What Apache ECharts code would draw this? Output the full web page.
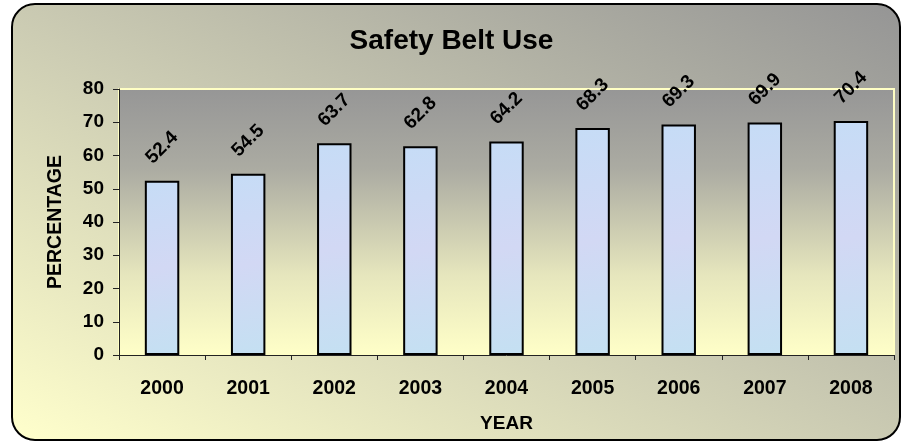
<!DOCTYPE html>
<html>
<head>
<meta charset="utf-8">
<script src="https://cdn.jsdelivr.net/npm/echarts@6/dist/echarts.min.js"></script>
<style>
  html, body { margin: 0; padding: 0; background: #ffffff; }
  #frame {
    position: absolute; left: 11px; top: 3px; width: 886px; height: 434px;
    border: 2px solid #000; border-radius: 24px;
    background: linear-gradient(to top right, #ffffcc 0%, #cacab2 50%, #959595 100%);
  }
  #chart { position: absolute; left: 0; top: 0; width: 903px; height: 442px; }
</style>
</head>
<body>
<div id="frame"></div>
<div id="chart"></div>
<script>
const categories = ['2000', '2001', '2002', '2003', '2004', '2005', '2006', '2007', '2008'];
const beltUse = [52.4, 54.5, 63.7, 62.8, 64.2, 68.3, 69.3, 69.9, 70.4];
const yTicks = { min: 0, max: 80, interval: 10 };

const chart = echarts.init(document.getElementById('chart'), null, { renderer: 'canvas' });
const font = '"Liberation Sans", Arial, sans-serif';

chart.setOption({
  backgroundColor: 'transparent',
  animation: false,
  title: {
    text: 'Safety Belt Use',
    left: 'center',
    top: 22,
    textStyle: { fontFamily: font, fontSize: 28, fontWeight: 'bold', color: '#000' }
  },
  grid: {
    left: 119, right: 9, top: 89, bottom: 87,
    show: true,
    borderColor: '#ffffc4',
    borderWidth: 2,
    backgroundColor: new echarts.graphic.LinearGradient(0, 0, 0, 1, [
      { offset: 0, color: '#969696' },
      { offset: 0.3, color: '#ababa2' },
      { offset: 0.7, color: '#e6e6bd' },
      { offset: 1, color: '#ffffc8' }
    ])
  },
  xAxis: {
    type: 'category',
    data: categories,
    name: 'YEAR',
    nameLocation: 'middle',
    nameGap: 59,
    nameTextStyle: { fontFamily: font, fontSize: 19, fontWeight: 'bold', color: '#000' },
    axisLine: { lineStyle: { color: '#222', width: 1 } },
    axisTick: { show: true, length: 5, lineStyle: { color: '#222' } },
    axisLabel: { margin: 24, fontFamily: font, fontSize: 19.5, fontWeight: 'bold', color: '#000' }
  },
  yAxis: {
    type: 'value',
    min: yTicks.min, max: yTicks.max, interval: yTicks.interval,
    name: 'PERCENTAGE',
    nameLocation: 'middle',
    nameGap: 53,
    nameTextStyle: { fontFamily: font, fontSize: 19.5, fontWeight: 'bold', color: '#000' },
    splitLine: { show: false },
    axisLine: { show: true, lineStyle: { color: '#222', width: 1 } },
    axisTick: { show: true, length: 6, lineStyle: { color: '#222' } },
    axisLabel: { margin: 15, fontFamily: font, fontSize: 19, fontWeight: 'bold', color: '#000' }
  },
  series: [{
    type: 'bar',
    data: beltUse,
    barWidth: '40%',
    itemStyle: {
      color: new echarts.graphic.LinearGradient(0, 0, 1, 1, [
        { offset: 0, color: '#c6dcf6' },
        { offset: 0.5, color: '#d2d8f4' },
        { offset: 1, color: '#c4e0f2' }
      ]),
      borderColor: '#000',
      borderWidth: 2
    },
    label: {
      show: true,
      position: 'top',
      distance: 33,
      rotate: 45,
      align: 'center',
      verticalAlign: 'middle',
      fontFamily: font,
      fontSize: 19,
      fontWeight: 'bold',
      color: '#000'
    }
  }]
});
</script>
</body>
</html>
